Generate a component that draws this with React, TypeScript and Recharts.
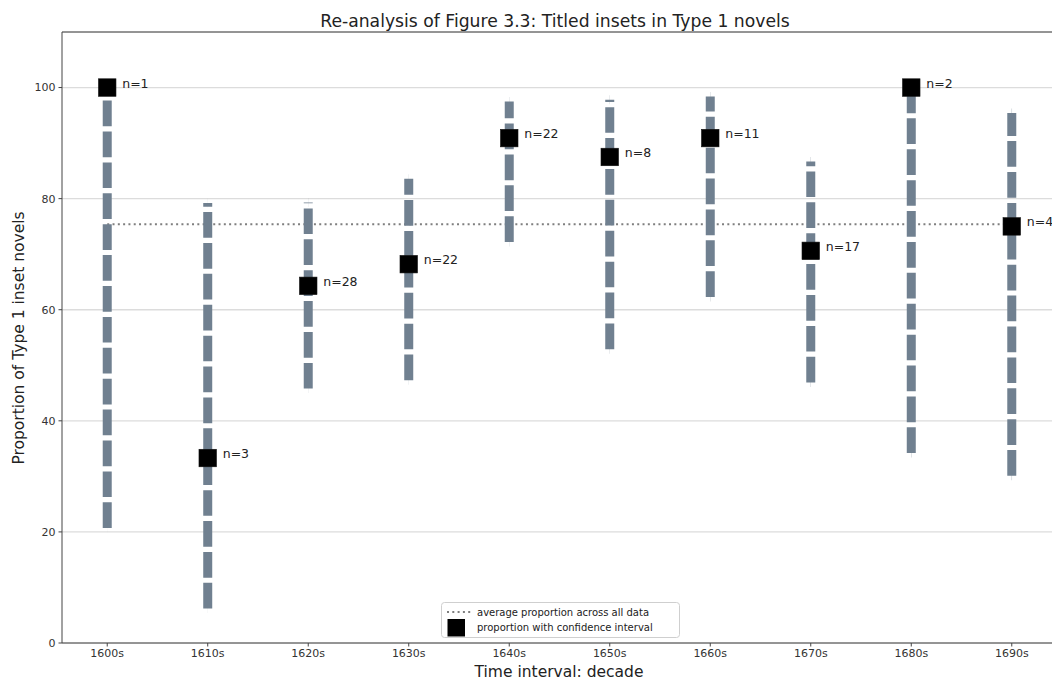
import React from 'react';
import {
  ScatterChart,
  Scatter,
  XAxis,
  YAxis,
  CartesianGrid,
  ErrorBar,
  ReferenceLine,
  Customized,
} from 'recharts';

// ---- data ----
const decades = ['1600s', '1610s', '1620s', '1630s', '1640s', '1650s', '1660s', '1670s', '1680s', '1690s'];
const counts = [1, 3, 28, 22, 22, 8, 11, 17, 2, 4];
const proportions = [100, 33.3, 64.3, 68.2, 90.9, 87.5, 90.9, 70.6, 100, 75];
const lowerCI = [20.7, 6.2, 45.8, 47.3, 72.2, 52.9, 62.3, 46.9, 34.2, 30.1];
const upperCI = [100, 79.2, 79.3, 83.6, 97.5, 97.8, 98.4, 86.7, 100, 95.4];
const averageProportion = 75.4;
const yTicks = [0, 20, 40, 60, 80, 100];
const xTicks = [0, 1, 2, 3, 4, 5, 6, 7, 8, 9];

const points = decades.map((d, i) => ({
  idx: i,
  decade: d,
  n: counts[i],
  value: proportions[i],
  err: [proportions[i] - lowerCI[i], upperCI[i] - proportions[i]],
}));

const FONT = '"DejaVu Sans", sans-serif';
const BAR = '#708090';

const SquareMarker = (props: any) => {
  const { cx, cy, payload } = props;
  const s = 17.5;
  return (
    <g>
      <rect x={cx - s / 2} y={cy - s / 2} width={s} height={s} fill="#000" stroke="#111" strokeWidth={0.6} />
      <text x={cx + 15} y={cy} fontSize={12.5} fill="#222" fontFamily={FONT}>
        {'n=' + payload.n}
      </text>
    </g>
  );
};

const Decorations = () => (
  <g fontFamily={FONT}>
    <text x={555} y={27} textAnchor="middle" fontSize={17.2} fill="#222">
      Re-analysis of Figure 3.3: Titled insets in Type 1 novels
    </text>
    <text x={559} y={677} textAnchor="middle" fontSize={15.5} fill="#222">
      Time interval: decade
    </text>
    <text
      x={0}
      y={0}
      transform="translate(24 338) rotate(-90)"
      textAnchor="middle"
      fontSize={15.5}
      fill="#222"
    >
      Proportion of Type 1 inset novels
    </text>
    {/* legend */}
    <rect x={441.5} y={602.5} width={238} height={35} rx={3} fill="#fff" fillOpacity={0.85} stroke="#cfcfcf" strokeWidth={1} />
    <line x1={447} y1={612} x2={471} y2={612} stroke="#7f7f7f" strokeWidth={2} strokeDasharray="2 3.3" />
    <text x={477} y={615.5} fontSize={10} fill="#222">average proportion across all data</text>
    <rect x={447.5} y={619} width={17.5} height={17.5} fill="#000" />
    <text x={477} y={630.5} fontSize={10} fill="#222">proportion with confidence interval</text>
  </g>
);

export default function App() {
  return (
    <div style={{ position: 'absolute', left: 0, top: 0, width: 1052, height: 681, overflow: 'hidden', background: '#fff' }}>
      <ScatterChart
        width={1110}
        height={681}
        margin={{ top: 32, right: 53, bottom: 8, left: 22 }}
        style={{ fontFamily: FONT }}
      >
        <CartesianGrid horizontal vertical={false} stroke="#dcdcdc" strokeWidth={1.3} />
        <XAxis
          type="number"
          dataKey="idx"
          domain={[-0.45, 9.45]}
          ticks={xTicks}
          interval={0}
          allowDataOverflow
          tickFormatter={(v: number) => decades[v] ?? ''}
          height={30}
          tickSize={3.5}
          tickMargin={3}
          stroke="#444"
          tick={{ fontSize: 11, fill: '#333' }}
        />
        <YAxis
          type="number"
          dataKey="value"
          domain={[0, 110]}
          ticks={yTicks}
          interval={0}
          allowDataOverflow
          width={40}
          tickSize={3.5}
          tickMargin={3}
          stroke="#444"
          tick={{ fontSize: 11, fill: '#333' }}
        />
        <ReferenceLine y={110} stroke="#444" strokeWidth={1} />
        <ReferenceLine
          segment={[
            { x: 0, y: averageProportion },
            { x: 9, y: averageProportion },
          ]}
          stroke="#7f7f7f"
          strokeWidth={2}
          strokeDasharray="2 3.3"
        />
        <Scatter data={points} dataKey="value" shape={SquareMarker} isAnimationActive={false}>
          <ErrorBar
            dataKey="err"
            direction="y"
            width={0}
            stroke={BAR}
            strokeWidth={9}
            strokeDasharray="25.7 5.2"
            isAnimationActive={false}
          />
        </Scatter>
        <Customized component={Decorations} />
      </ScatterChart>
    </div>
  );
}
